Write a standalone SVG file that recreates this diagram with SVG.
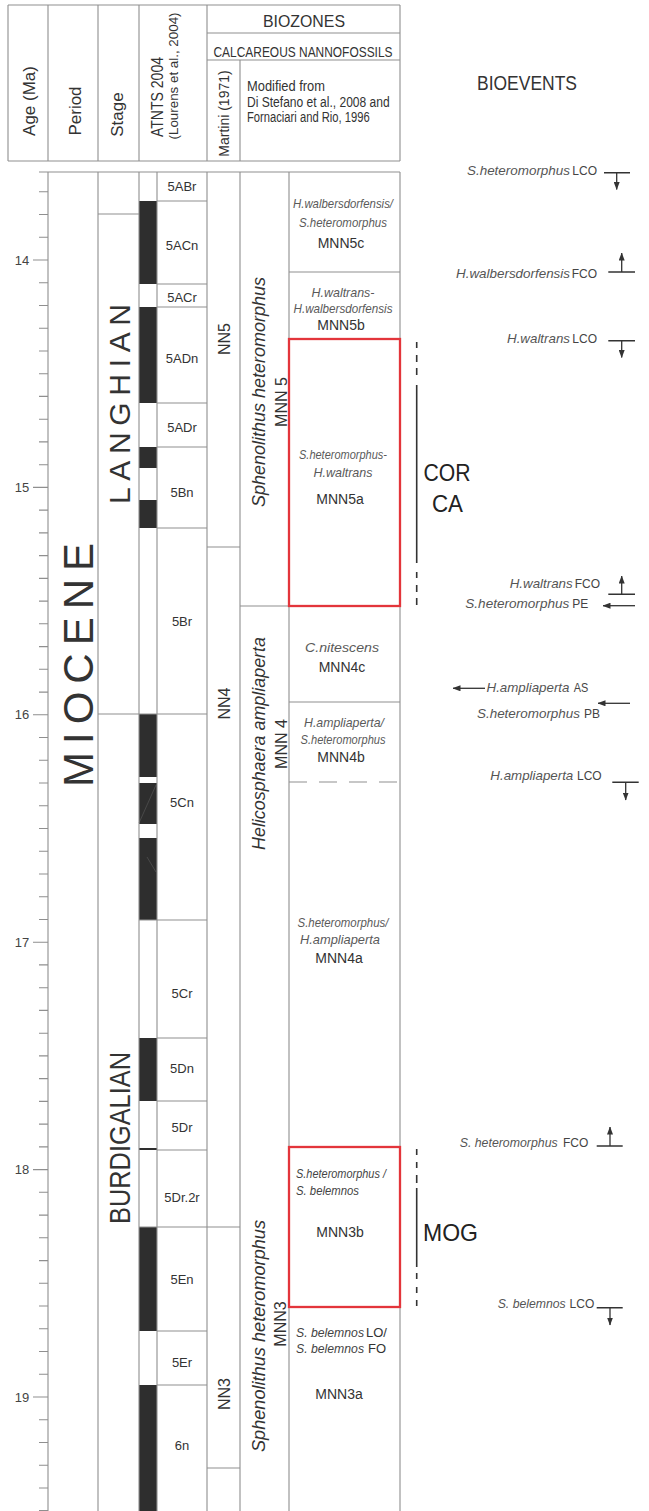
<svg xmlns="http://www.w3.org/2000/svg" width="649" height="1511" viewBox="0 0 649 1511">
<defs>
<style>
.ln{stroke:#8f8f8f;stroke-width:1.1;fill:none}
.dash{stroke:#8f8f8f;stroke-width:1.1;fill:none;stroke-dasharray:18 12}
.bk{fill:#2e2e2e}
.red{stroke:#e3353b;stroke-width:2.3;fill:none}
.sym{stroke:#333;stroke-width:1.5;fill:none}
.arr{stroke:#333;stroke-width:1.3;fill:none;marker-end:url(#ah)}
.brk{stroke:#333;stroke-width:1.6;fill:none}
text{font-family:"Liberation Sans",Arial,sans-serif;fill:#333}
.hd{font-size:17px}
.chr{font-size:13px;text-anchor:middle}
.mnn{font-size:14px;text-anchor:middle}
.zs{font-size:13px;font-style:italic;fill:#5a5a5a;text-anchor:middle}
.zl{font-size:13px;font-style:italic;fill:#444}
.ev{font-size:13px;font-style:italic;fill:#555;text-anchor:end}
.ab{font-size:12px;fill:#444;text-anchor:end}
.age{font-size:13px;fill:#444;text-anchor:middle}
.rot{text-anchor:middle}
.big{font-size:24px;fill:#222}
</style>
<marker id="ah" viewBox="0 0 8 6" markerWidth="8" markerHeight="6" refX="7.5" refY="3" orient="auto" markerUnits="userSpaceOnUse"><path d="M0,0 L8,3 L0,6 z" fill="#333"/></marker>
</defs>
<rect width="649" height="1511" fill="#fff"/>

<g id="header">
<path class="ln" d="M8 5H400 M8 161H400 M8 5V161 M48 5V161 M98 5V161 M139 5V161 M207 5V161 M400 5V161 M207 33H400 M207 60H400 M240 60V161"/>
<text class="hd rot" transform="translate(35,101) rotate(-90)">Age (Ma)</text>
<text class="hd rot" transform="translate(81,111) rotate(-90)">Period</text>
<text class="hd rot" transform="translate(123,114.5) rotate(-90)">Stage</text>
<text class="rot" transform="translate(163,97) rotate(-90)" font-size="16" textLength="80" lengthAdjust="spacingAndGlyphs">ATNTS 2004</text>
<text class="rot" transform="translate(178,76) rotate(-90)" font-size="13" textLength="127" lengthAdjust="spacingAndGlyphs">(Lourens et al., 2004)</text>
<text class="rot" transform="translate(229,113.5) rotate(-90)" font-size="14">Martini (1971)</text>
<text x="304" y="27" text-anchor="middle" font-size="17" textLength="82" lengthAdjust="spacingAndGlyphs">BIOZONES</text>
<text x="303" y="56.5" text-anchor="middle" font-size="15" textLength="179" lengthAdjust="spacingAndGlyphs">CALCAREOUS NANNOFOSSILS</text>
<text x="247" y="90.5" font-size="14" textLength="78" lengthAdjust="spacingAndGlyphs">Modified from</text>
<text x="247" y="106.5" font-size="14" textLength="142.7" lengthAdjust="spacingAndGlyphs">Di Stefano et al., 2008 and</text>
<text x="247" y="121.5" font-size="14" textLength="122.7" lengthAdjust="spacingAndGlyphs">Fornaciari and Rio, 1996</text>
<text x="527" y="90" text-anchor="middle" font-size="20" fill="#444" textLength="100" lengthAdjust="spacingAndGlyphs">BIOEVENTS</text>
</g>

<g id="age-axis">
<path class="ln" d="M39 191.8H48 M39 214.5H48 M39 237.3H48 M33 260H48 M39 282.7H48 M39 305.5H48 M39 328.2H48 M39 351H48 M39 373.7H48 M39 396.4H48 M39 419.2H48 M39 441.9H48 M39 464.7H48 M33 487.4H48 M39 510.1H48 M39 532.9H48 M39 555.6H48 M39 578.4H48 M39 601.1H48 M39 623.8H48 M39 646.6H48 M39 669.3H48 M39 692.1H48 M33 714.8H48 M39 737.5H48 M39 760.3H48 M39 783H48 M39 805.8H48 M39 828.5H48 M39 851.2H48 M39 874H48 M39 896.7H48 M39 919.5H48 M33 942.2H48 M39 964.9H48 M39 987.7H48 M39 1010.4H48 M39 1033.2H48 M39 1055.9H48 M39 1078.6H48 M39 1101.4H48 M39 1124.1H48 M39 1146.9H48 M33 1169.6H48 M39 1192.3H48 M39 1215.1H48 M39 1237.8H48 M39 1260.6H48 M39 1283.3H48 M39 1306H48 M39 1328.8H48 M39 1351.5H48 M39 1374.3H48 M33 1397H48 M39 1419.7H48 M39 1442.5H48 M39 1465.2H48 M39 1488H48 M39 1510.5H48"/>
<text class="age" x="22" y="264.5">14</text>
<text class="age" x="22" y="491.9">15</text>
<text class="age" x="22" y="719.3">16</text>
<text class="age" x="22" y="946.7">17</text>
<text class="age" x="22" y="1174.1">18</text>
<text class="age" x="22" y="1401.5">19</text>
</g>

<g id="polarity">
<rect class="bk" x="139" y="201" width="18" height="83"/>
<rect class="bk" x="139" y="307" width="18" height="96"/>
<rect class="bk" x="139" y="447" width="18" height="21"/>
<rect class="bk" x="139" y="500" width="18" height="28"/>
<rect class="bk" x="139" y="714" width="18" height="63"/>
<rect class="bk" x="139" y="783" width="18" height="41"/>
<rect class="bk" x="139" y="838" width="18" height="82"/>
<rect class="bk" x="139" y="1038" width="18" height="63"/>
<rect class="bk" x="139" y="1148" width="18" height="2"/>
<rect class="bk" x="139" y="1227" width="18" height="104"/>
<rect class="bk" x="139" y="1385" width="18" height="126"/>
<path d="M156 785L139 823 M147 857L156 872" stroke="#5a5a5a" stroke-width="0.6" fill="none"/>
</g>

<g id="grid">
<path class="ln" d="M39 172H400 M48 172V1511 M98 172V1511 M139 172V1511 M157 172V1511 M207 172V1511 M240 172V1511 M289 172V1511 M400 172V1511"/>
<path class="ln" d="M98 214H139 M98 714H207"/>
<path class="ln" d="M157 201H207 M157 284H207 M157 307H207 M157 403H207 M157 447H207 M157 528H207 M139 920H207 M157 1038H207 M157 1101H207 M157 1150H207 M139 1227H240 M157 1331H207 M157 1385H207"/>
<path class="ln" d="M207 547H240 M207 1468H240 M240 606H400 M289 272H400 M289 702H400"/>
<path class="dash" d="M289 782H400"/>
</g>

<g id="period">
<text class="rot" transform="translate(93,665) rotate(-90)" font-size="42" textLength="244" lengthAdjust="spacing">MIOCENE</text>
</g>

<g id="stage">
<text class="rot" transform="translate(130,404) rotate(-90)" font-size="30" textLength="200" lengthAdjust="spacing">LANGHIAN</text>
<text class="rot" transform="translate(130,1138) rotate(-90)" font-size="30" textLength="172" lengthAdjust="spacingAndGlyphs">BURDIGALIAN</text>
</g>

<g id="chrons">
<text class="chr" x="182" y="191">5ABr</text>
<text class="chr" x="182" y="249.5">5ACn</text>
<text class="chr" x="182" y="301.5">5ACr</text>
<text class="chr" x="182" y="362.5">5ADn</text>
<text class="chr" x="182" y="431.5">5ADr</text>
<text class="chr" x="182" y="496.5">5Bn</text>
<text class="chr" x="182" y="625.5">5Br</text>
<text class="chr" x="182" y="806.5">5Cn</text>
<text class="chr" x="182" y="997.5">5Cr</text>
<text class="chr" x="182" y="1072.5">5Dn</text>
<text class="chr" x="182" y="1131.5">5Dr</text>
<text class="chr" x="182" y="1201.5">5Dr.2r</text>
<text class="chr" x="182" y="1283.5">5En</text>
<text class="chr" x="182" y="1366.5">5Er</text>
<text class="chr" x="182" y="1449.5">6n</text>
</g>

<g id="martini">
<text class="rot" transform="translate(230,339) rotate(-90)" font-size="16">NN5</text>
<text class="rot" transform="translate(230,703.5) rotate(-90)" font-size="16">NN4</text>
<text class="rot" transform="translate(230,1394) rotate(-90)" font-size="16">NN3</text>
</g>

<g id="mnn-zones">
<text class="rot" transform="translate(265,392) rotate(-90)" font-size="18" font-style="italic" fill="#666" textLength="230" lengthAdjust="spacingAndGlyphs">Sphenolithus heteromorphus</text>
<text class="rot" transform="translate(287,402) rotate(-90)" font-size="16">MNN 5</text>
<text class="rot" transform="translate(265,743.5) rotate(-90)" font-size="18" font-style="italic" fill="#666" textLength="213" lengthAdjust="spacingAndGlyphs">Helicosphaera ampliaperta</text>
<text class="rot" transform="translate(287,744) rotate(-90)" font-size="16">MNN 4</text>
<text class="rot" transform="translate(265,1336) rotate(-90)" font-size="18" font-style="italic" fill="#666" textLength="232" lengthAdjust="spacingAndGlyphs">Sphenolithus heteromorphus</text>
<text class="rot" transform="translate(286,1324) rotate(-90)" font-size="16">MNN3</text>
</g>

<g id="subzones">
<text class="zs" x="343" y="208" textLength="100" lengthAdjust="spacingAndGlyphs">H.walbersdorfensis/</text>
<text class="zs" x="343" y="227" textLength="88" lengthAdjust="spacingAndGlyphs">S.heteromorphus</text>
<text class="mnn" x="341" y="248">MNN5c</text>
<text class="zs" x="343" y="297" textLength="63" lengthAdjust="spacingAndGlyphs">H.waltrans-</text>
<text class="zs" x="343" y="313" textLength="99" lengthAdjust="spacingAndGlyphs">H.walbersdorfensis</text>
<text class="mnn" x="341" y="330">MNN5b</text>
<text class="zs" x="343" y="459" textLength="88" lengthAdjust="spacingAndGlyphs">S.heteromorphus-</text>
<text class="zs" x="343" y="477" textLength="59" lengthAdjust="spacingAndGlyphs">H.waltrans</text>
<text class="mnn" x="340" y="504">MNN5a</text>
<text class="zs" x="342" y="652" font-size="14" textLength="74" lengthAdjust="spacingAndGlyphs">C.nitescens</text>
<text class="mnn" x="342" y="672">MNN4c</text>
<text class="zs" x="344" y="727" textLength="80" lengthAdjust="spacingAndGlyphs">H.ampliaperta/</text>
<text class="zs" x="343" y="744" textLength="85" lengthAdjust="spacingAndGlyphs">S.heteromorphus</text>
<text class="mnn" x="341" y="762">MNN4b</text>
<text class="zs" x="343" y="926.5" textLength="91" lengthAdjust="spacingAndGlyphs">S.heteromorphus/</text>
<text class="zs" x="340" y="944" textLength="80" lengthAdjust="spacingAndGlyphs">H.ampliaperta</text>
<text class="mnn" x="339" y="963">MNN4a</text>
<text class="zl" x="296" y="1178" textLength="90" lengthAdjust="spacingAndGlyphs">S.heteromorphus /</text>
<text class="zl" x="296" y="1195" textLength="63" lengthAdjust="spacingAndGlyphs">S. belemnos</text>
<text class="mnn" x="340" y="1237">MNN3b</text>
<text class="zl" x="296" y="1337" textLength="68" lengthAdjust="spacingAndGlyphs">S. belemnos</text>
<text x="366" y="1337" font-size="13" fill="#444">LO/</text>
<text class="zl" x="296" y="1353" textLength="68" lengthAdjust="spacingAndGlyphs">S. belemnos</text>
<text x="368" y="1353" font-size="13" fill="#444">FO</text>
<text class="mnn" x="339" y="1399">MNN3a</text>
</g>

<g id="highlight-boxes">
<rect class="red" x="289" y="339" width="111" height="267"/>
<rect class="red" x="289" y="1147" width="111" height="160"/>
</g>

<g id="corca">
<path class="brk" d="M416.7 342V348 M416.7 355V362 M416.7 368V375 M416.7 385V563 M416.7 572V578 M416.7 585V592 M416.7 598V605"/>
<text class="big" x="447" y="481" text-anchor="middle" textLength="47" lengthAdjust="spacingAndGlyphs">COR</text>
<text class="big" x="447.5" y="512" text-anchor="middle" textLength="31" lengthAdjust="spacingAndGlyphs">CA</text>
</g>

<g id="mog">
<path class="brk" d="M416.7 1149V1155 M416.7 1162V1168 M416.7 1175V1183 M416.7 1188V1267 M416.7 1273V1279 M416.7 1287V1293 M416.7 1300V1306"/>
<text class="big" x="423" y="1241" textLength="55" lengthAdjust="spacingAndGlyphs">MOG</text>
</g>

<g id="bioevents">
<text class="ev" x="570" y="175" textLength="103" lengthAdjust="spacingAndGlyphs">S.heteromorphus</text>
<text class="ab" x="597" y="175">LCO</text>
<text class="ev" x="570" y="278" textLength="114" lengthAdjust="spacingAndGlyphs">H.walbersdorfensis</text>
<text class="ab" x="597" y="278">FCO</text>
<text class="ev" x="570" y="343" textLength="63" lengthAdjust="spacingAndGlyphs">H.waltrans</text>
<text class="ab" x="597" y="343">LCO</text>
<text class="ev" x="572.7" y="588" textLength="63" lengthAdjust="spacingAndGlyphs">H.waltrans</text>
<text class="ab" x="600" y="588">FCO</text>
<text class="ev" x="569.3" y="608" textLength="104" lengthAdjust="spacingAndGlyphs">S.heteromorphus</text>
<text class="ab" x="588.3" y="608">PE</text>
<text class="ev" x="569.5" y="692" textLength="83" lengthAdjust="spacingAndGlyphs">H.ampliaperta</text>
<text class="ab" x="588.3" y="692" textLength="14.5" lengthAdjust="spacingAndGlyphs">AS</text>
<text class="ev" x="580" y="718" textLength="103" lengthAdjust="spacingAndGlyphs">S.heteromorphus</text>
<text class="ab" x="600" y="718">PB</text>
<text class="ev" x="573.3" y="780" textLength="83" lengthAdjust="spacingAndGlyphs">H.ampliaperta</text>
<text class="ab" x="601.7" y="780">LCO</text>
<text class="ev" x="557.7" y="1147" textLength="98" lengthAdjust="spacingAndGlyphs">S. heteromorphus</text>
<text class="ab" x="588.3" y="1147">FCO</text>
<text class="ev" x="565.7" y="1308" textLength="68" lengthAdjust="spacingAndGlyphs">S. belemnos</text>
<text class="ab" x="594.3" y="1308">LCO</text>
</g>

<g id="connectors">
<path class="sym" d="M604 172.7H630 M608.3 272H635 M608.3 340.7H635 M608.3 594.3H635 M612.3 782.3H638.7 M596.7 1146H622.7 M596.7 1307.7H622.7"/>
<path class="arr" d="M616.7 172.7V189.5"/>
<path class="arr" d="M621.7 272V253"/>
<path class="arr" d="M621.7 340.7V357.5"/>
<path class="arr" d="M621.7 594.3V576"/>
<path class="arr" d="M635 605.7H603"/>
<path class="arr" d="M485 688.3H453"/>
<path class="arr" d="M630 703.3H598"/>
<path class="arr" d="M625.7 782.3V800"/>
<path class="arr" d="M610 1146V1127"/>
<path class="arr" d="M610 1307.7V1325"/>
</g>
</svg>
